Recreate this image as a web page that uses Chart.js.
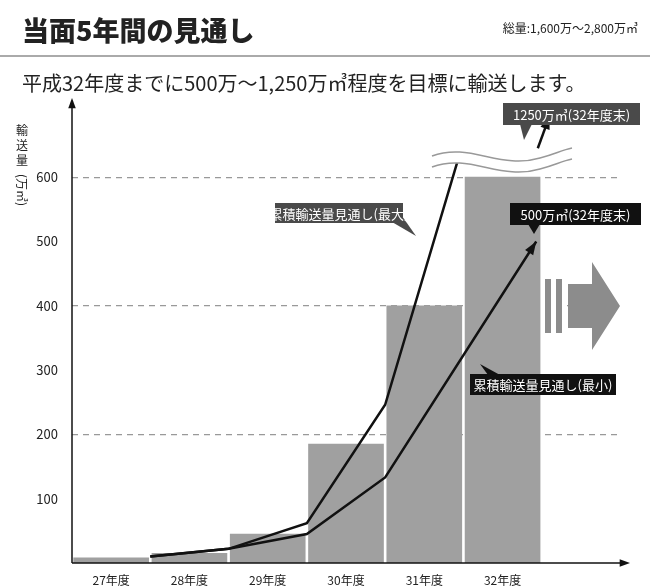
<!DOCTYPE html>
<html><head><meta charset="utf-8">
<script src="https://cdn.jsdelivr.net/npm/chart.js@4"></script>
<style>
body{margin:0;background:#fff;font-family:"Noto Sans CJK JP","Noto Sans",sans-serif;}
#wrap{position:relative;width:650px;height:588px;}
canvas{position:absolute;left:0;top:0;}
.t{position:absolute;white-space:nowrap;color:#222;}
</style></head><body>
<div id="wrap">
<canvas id="c" width="650" height="588"></canvas>
<div class="t" style="left:22px;top:10px;font-size:27px;font-weight:900;">当面5年間の見通し</div>
<div class="t" style="right:12px;top:19px;font-size:12px;">総量:1,600万～2,800万㎥</div>
<div style="position:absolute;left:0;top:55px;width:650px;height:2px;background:#aaa"></div>
<div class="t" style="left:22px;top:68px;font-size:20px;">平成32年度までに500万～1,250万㎥程度を目標に輸送します。</div>
</div>
<script>
const categories=["27年度","28年度","29年度","30年度","31年度","32年度",""];
const barValues=[8,15,45,185,400,600,null];
const maxLine=[{x:1,y:10},{x:2,y:22},{x:3,y:62},{x:4,y:246},{x:4.93,y:627}];
const maxLineEnd=[{x:5.95,y:645},{x:6.1,y:695}];
const minLine=[{x:1,y:10},{x:2,y:22},{x:3,y:45},{x:4,y:133},{x:5.93,y:500}];
const yTicks=[100,200,300,400,500,600];
const F='"Noto Sans CJK JP","Noto Sans",sans-serif';

function arrowHead(ctx,x1,y1,x2,y2,size,color){
  const a=Math.atan2(y2-y1,x2-x1);
  ctx.fillStyle=color;ctx.beginPath();
  ctx.moveTo(x2,y2);
  ctx.lineTo(x2-size*Math.cos(a-0.35),y2-size*Math.sin(a-0.35));
  ctx.lineTo(x2-size*Math.cos(a+0.35),y2-size*Math.sin(a+0.35));
  ctx.closePath();ctx.fill();
}
function callout(ctx,x,y,w,h,text,bg,ptr){
  ctx.fillStyle=bg;ctx.fillRect(x,y,w,h);
  ctx.beginPath();ctx.moveTo(ptr[0],ptr[1]);ctx.lineTo(ptr[2],ptr[3]);ctx.lineTo(ptr[4],ptr[5]);ctx.closePath();ctx.fill();
  ctx.fillStyle='#fff';ctx.font='13px '+F;ctx.textAlign='center';ctx.textBaseline='middle';
  ctx.fillText(text,x+w/2,y+h/2+1);
}
const deco={id:'deco',
 afterDatasetsDraw(ch){
  const ctx=ch.ctx,ca=ch.chartArea,x2=ch.scales.x2,y=ch.scales.y;
  ctx.save();
  ctx.strokeStyle='#111';ctx.lineWidth=1.5;
  ctx.beginPath();ctx.moveTo(ca.left,ca.bottom);ctx.lineTo(ca.left,ca.top+8);ctx.stroke();
  arrowHead(ctx,ca.left,ca.bottom,ca.left,ca.top-2,11,'#111');
  ctx.beginPath();ctx.moveTo(ca.left,ca.bottom);ctx.lineTo(ca.right+2,ca.bottom);ctx.stroke();
  arrowHead(ctx,ca.left,ca.bottom,ca.right+10,ca.bottom,11,'#111');
  const p=a=>[x2.getPixelForValue(a.x),y.getPixelForValue(a.y)];
  let a1=p(minLine[3]),a2=p(minLine[4]);arrowHead(ctx,a1[0],a1[1],a2[0],a2[1],14,'#111');
  a1=p(maxLineEnd[0]);a2=p(maxLineEnd[1]);arrowHead(ctx,a1[0],a1[1],a2[0],a2[1],14,'#111');
  ctx.fillStyle='#fff';ctx.strokeStyle='#999';ctx.lineWidth=1.5;
  ctx.beginPath();ctx.moveTo(432,156);ctx.bezierCurveTo(470,142,500,170,540,158);ctx.bezierCurveTo(555,154,562,150,572,148);
  ctx.lineTo(572,159);ctx.bezierCurveTo(562,161,555,165,540,169);ctx.bezierCurveTo(500,181,470,153,432,167);ctx.closePath();ctx.fill();
  ctx.beginPath();ctx.moveTo(432,156);ctx.bezierCurveTo(470,142,500,170,540,158);ctx.bezierCurveTo(555,154,562,150,572,148);ctx.stroke();
  ctx.beginPath();ctx.moveTo(432,167);ctx.bezierCurveTo(470,153,500,181,540,169);ctx.bezierCurveTo(555,165,562,161,572,159);ctx.stroke();
  ctx.fillStyle='#8c8c8c';
  ctx.fillRect(545,279,6,54);ctx.fillRect(556,279,6,54);
  ctx.beginPath();ctx.moveTo(568,284);ctx.lineTo(592,284);ctx.lineTo(592,262);ctx.lineTo(620,306);ctx.lineTo(592,350);ctx.lineTo(592,328);ctx.lineTo(568,328);ctx.closePath();ctx.fill();
  callout(ctx,503,103,137,22,'1250万㎥(32年度末)','#4a4a4a',[520,124,532,124,524,140]);
  callout(ctx,275,203,128,20,'累積輸送量見通し(最大)','#4a4a4a',[392,222,402,216,416,236]);
  callout(ctx,510,203,131,22,'500万㎥(32年度末)','#111',[528,224,540,224,534,234]);
  callout(ctx,470,374,146,21,'累積輸送量見通し(最小)','#111',[488,375,500,375,480,364]);
  ctx.fillStyle='#222';ctx.font='12px '+F;ctx.textAlign='center';ctx.textBaseline='middle';
  ['輸','送','量'].forEach((c,i)=>ctx.fillText(c,22,130+i*15));
  ctx.save();ctx.translate(22,190);ctx.rotate(Math.PI/2);ctx.fillText('(万㎥)',0,0);ctx.restore();
  ctx.restore();
 }};
new Chart(document.getElementById('c'),{
 data:{labels:categories,datasets:[
  {type:'bar',data:barValues,backgroundColor:'#a0a0a0',barThickness:75,grouped:false,order:3},
  {type:'line',data:maxLine,xAxisID:'x2',borderColor:'#111',borderWidth:2.5,pointRadius:0,tension:0,order:1},
  {type:'line',data:maxLineEnd,xAxisID:'x2',borderColor:'#111',borderWidth:2.5,pointRadius:0,tension:0,order:1},
  {type:'line',data:minLine,xAxisID:'x2',borderColor:'#111',borderWidth:2.5,pointRadius:0,tension:0,order:1}
 ]},
 plugins:[deco],
 options:{responsive:false,animation:false,
  layout:{padding:{top:100,left:32,right:30,bottom:0}},
  plugins:{legend:{display:false},tooltip:{enabled:false}},
  scales:{
   x:{offset:true,grid:{display:false},border:{display:false},
      ticks:{color:'#222',font:{size:12,family:F},padding:2,maxRotation:0},
      afterFit(s){s.height=25;}},
   x2:{type:'linear',min:0,max:7,display:false},
   y:{min:0,max:720,afterFit(s){s.width=40;},
      afterBuildTicks(s){s.ticks=yTicks.map(v=>({value:v}));},
      border:{display:false,dash:[6,5]},
      grid:{drawTicks:false,color:c=>c.tick&&c.tick.value%200===0?'#999':'transparent',lineWidth:1.2},
      ticks:{color:'#222',font:{size:13,family:F},padding:14}}
  }}
});
</script></body></html>
